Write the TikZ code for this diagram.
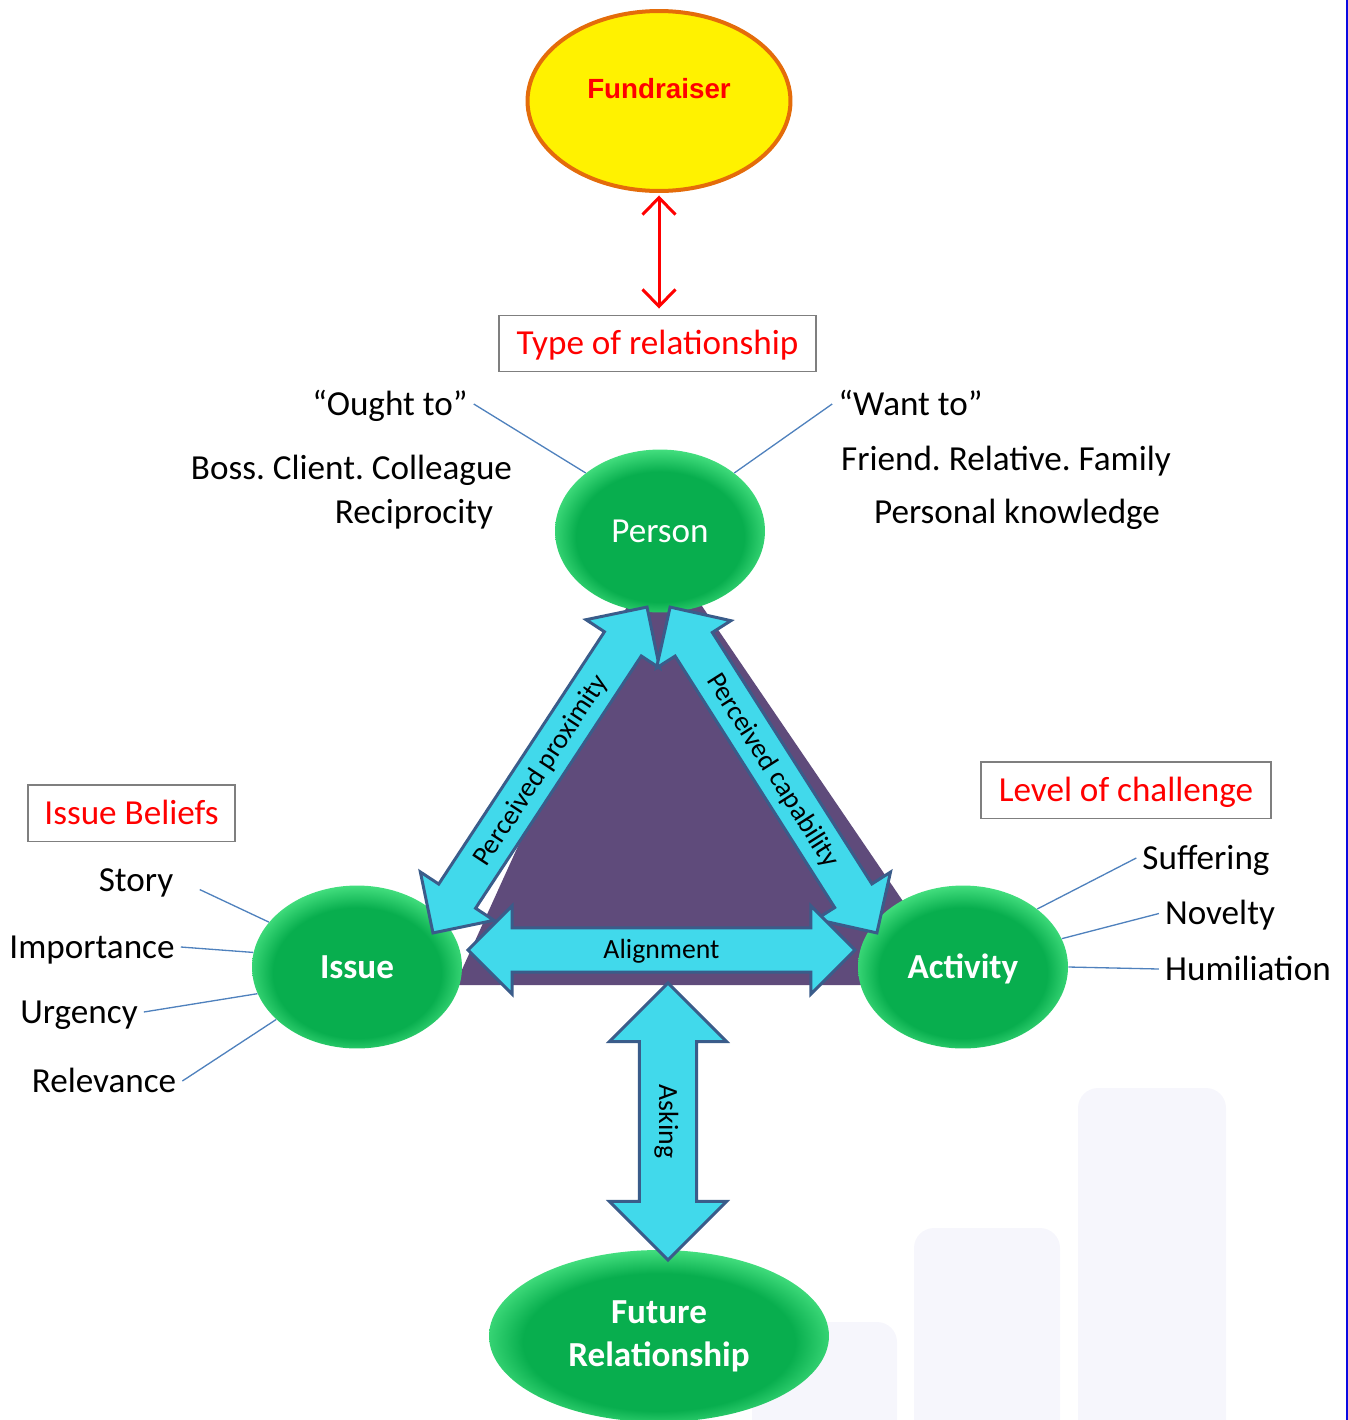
\documentclass[tikz,border=0pt]{standalone}
\usepackage{fontspec}
\setmainfont{Carlito}
\newfontfamily\arialfont{Liberation Sans}
\usetikzlibrary{positioning, arrows.meta, shapes.geometric, shapes.arrows}
\frenchspacing

\definecolor{grnA}{RGB}{8,174,78}
\definecolor{grnB}{RGB}{72,226,130}
\definecolor{plum}{RGB}{95,75,123}
\definecolor{aqua}{RGB}{65,217,235}
\definecolor{aquaedge}{RGB}{58,92,138}
\definecolor{feelblue}{RGB}{79,129,189}
\definecolor{boxgray}{RGB}{127,127,127}
\definecolor{fundorange}{RGB}{228,108,10}
\definecolor{barbg}{RGB}{246,246,252}
\definecolor{edgeblue}{RGB}{10,10,225}

\pgfdeclareradialshading{greenball}{\pgfpoint{0bp}{-3bp}}{color(0bp)=(grnA); color(20bp)=(grnA); color(27bp)=(grnB); color(50bp)=(grnB)}

\begin{document}
\begin{tikzpicture}[x=0.02cm, y=-0.02cm, >={Straight Barb[length=0.34cm, width=0.66cm]},
    txt/.style={font=\fontsize{20}{24}\selectfont, text height=12.7pt, text depth=0pt},
    redbox/.style={txt, draw=boxgray, line width=0.85pt, text=red, minimum height=1.13cm},
    blob/.style={ellipse, shade, shading=greenball, text=white, minimum width=4.2cm, minimum height=3.26cm,
                 font=\fontsize{20}{24}\selectfont, text height=12.7pt, text depth=0pt},
    fat/.style={double arrow, draw=aquaedge, fill=aqua, line width=1.7pt, double arrow head extend=0.44cm,
                inner xsep=1pt, inner ysep=5.2pt, text height=11.5pt, text depth=1.5pt, font=\fontsize{15.8}{18}\selectfont},
    feeler/.style={draw=feelblue, line width=0.75pt}]
  \useasboundingbox (0,0) rectangle (1348,1420);

  % faint bars in the background
  \fill[barbg, rounded corners=0.4cm] (752,1322) rectangle (897,1460);
  \fill[barbg, rounded corners=0.4cm] (914,1228) rectangle (1060,1460);
  \fill[barbg, rounded corners=0.4cm] (1078,1088) rectangle (1226,1460);
  \draw[edgeblue, line width=0.04cm] (1347,0) -- (1347,1420);

  % triangle
  \fill[plum] (657,540) -- (455,985) -- (960,985) -- cycle;

  \node[blob] (person) at (660,531) {Person};
  \node[blob, font=\fontsize{20}{24}\selectfont\bfseries] (issue) at (357,967) {Issue};
  \node[blob, font=\fontsize{20}{24}\selectfont\bfseries] (activity) at (963,967) {Activity};
  \node[ellipse, shade, shading=greenball, text=white, minimum width=6.8cm, minimum height=3.44cm, align=center,
        font=\fontsize{20}{24.4}\selectfont\bfseries] (future) at (659,1336) {Future\\Relationship};

  \node[fat, minimum height=7.8cm, rotate=56.7] (proximity) at (540,770) {Perceived proximity};
  \node[fat, minimum height=7.72cm, rotate=-57.6] (capability) at (773.5,770) {Perceived capability};
  \node[fat, minimum height=7.74cm] (alignment) at (661.5,950) {Alignment};
  \node[fat, minimum height=5.54cm, rotate=-90, inner ysep=8.9pt, double arrow head extend=0.6cm] (asking) at (668,1121.5) {Asking};

  \node[ellipse, draw=fundorange, line width=0.08cm, fill=yellow, minimum width=5.26cm, minimum height=3.6cm,
        text=red, font=\arialfont\bfseries\fontsize{15.8}{18}\selectfont, text height=0.4cm, text depth=0.52cm] (fund) at (659,101) {Fundraiser};
  \node[redbox, minimum width=6.34cm] (tor) at (657.5,343.5) {Type of relationship};
  \draw[<->, red, line width=0.06cm, shorten <=0.05cm, shorten >=0.12cm] (fund.south) -- (fund.south |- tor.north);

  % person side
  \node[txt] (ought) at (390,404) {“Ought to”};
  \node[txt] (want) at (910.5,404) {“Want to”};
  \node[txt] (boss) at (351.5,468) {Boss. Client. Colleague};
  \node[txt] (recip) at (414,512) {Reciprocity};
  \node[txt] (friend) at (1006,459) {Friend. Relative. Family};
  \node[txt] (personal) at (1017,512) {Personal knowledge};
  \draw[feeler] (ought.east) -- (person.142);
  \draw[feeler] (want.west) -- (person.38);

  % issue side
  \node[redbox, minimum width=4.14cm] (beliefs) at (131.5,813) {Issue Beliefs};
  \node[txt] (story) at (136,880) {Story};
  \node[txt] (importance) at (92,947) {Importance};
  \node[txt] (urgency) at (79,1012) {Urgency};
  \node[txt] (relevance) at (104,1081) {Relevance};
  \draw[feeler, shorten <=0.45cm] (story.east) -- (issue.153);
  \draw[feeler] (importance.east) -- (issue.172);
  \draw[feeler] (urgency.east) -- (issue.195);
  \draw[feeler] (relevance.east) -- (issue.213);

  % activity side
  \node[redbox, minimum width=5.8cm] (challenge) at (1126,790) {Level of challenge};
  \node[txt] (suffering) at (1206,858) {Suffering};
  \node[txt] (novelty) at (1220,913.5) {Novelty};
  \node[txt] (humiliation) at (1248,969) {Humiliation};
  \draw[feeler] (suffering.west) -- (activity.38);
  \draw[feeler] (novelty.west) -- (activity.16);
  \draw[feeler] (humiliation.west) -- (activity.0);
\end{tikzpicture}
\end{document}
